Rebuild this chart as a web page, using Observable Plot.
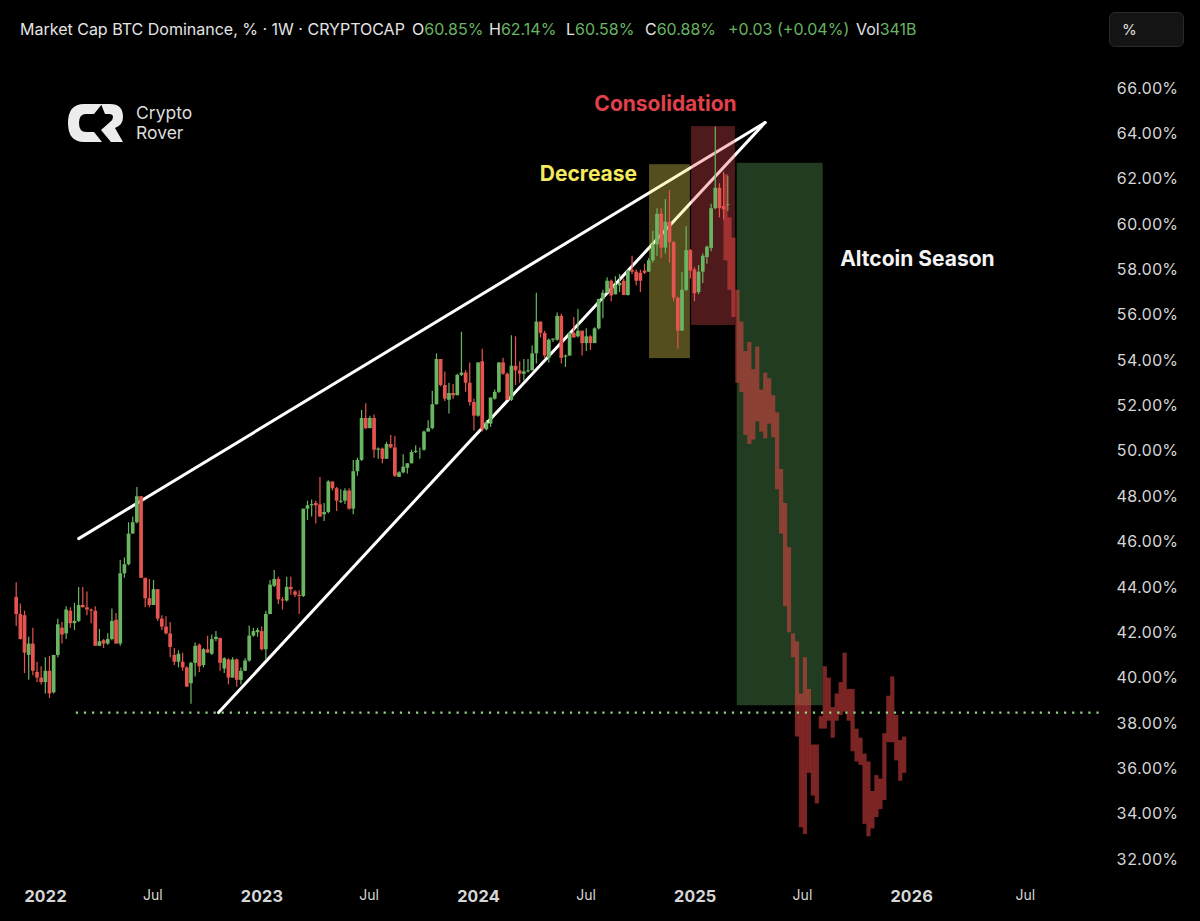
<!DOCTYPE html>
<html>
<head>
<meta charset="utf-8">
<script src="https://cdn.jsdelivr.net/npm/d3@7"></script>
<script src="https://cdn.jsdelivr.net/npm/@observablehq/plot@0.6"></script>
<style>
  html, body { margin: 0; padding: 0; background: #000; }
  body { width: 1200px; height: 921px; overflow: hidden; position: relative; font-family: Inter, Roboto, sans-serif; }
  #head { height: 56px; position: relative; color: #e4e4e4; font-size: 16px; white-space: nowrap; }
  #head .t { position: absolute; top: 19px; line-height: 20px; }
  #head b { font-weight: 400; color: #67b463; }
  #btn { position: absolute; left: 1109px; top: 12px; width: 73px; height: 33px; background: #141414; border: 1px solid #2a2a2a; border-radius: 6px; color: #e0e0e0; font-size: 15px; line-height: 34px; text-indent: 12px; }
  #logo { position: absolute; left: 68px; top: 104px; }
  #logoText { position: absolute; left: 136px; top: 103px; color: #dcdcdc; font-size: 17.5px; line-height: 20px; }
  svg { display: block; }
</style>
</head>
<body>
<div id="head"></div>
<div id="plot"></div>
<svg id="logo" width="56" height="38" viewBox="0 0 56 38">
  <path fill="#ececec" d="M34 0H16Q0 0 0 19Q0 38 16 38H34L26 28H18Q11 28 11 19Q11 10 18 10H26Z"/>
  <path fill="#ececec" d="M33 0H42Q55 0 55 13Q55 21 47 24L55 38H43L33 26L42 18Q45 16 45 13Q45 10 41 10H37Z"/>
</svg>
<div id="logoText">Crypto<br>Rover</div>
<script>
const opens = [43.56,42.8,42.75,41,41.5,40.25,40,39.8,40.3,39.35,41,42.2,41.95,42.95,42.4,42.5,43.2,43.1,43,42.95,41.4,41.65,41.5,41.7,42.55,41.5,44.6,45,46.35,46.85,48,44.4,43.5,43.2,43.9,42.6,42.25,41.95,41,40.7,40.7,40.45,39.75,40.65,41.45,40.55,41.25,41.05,41.7,41.75,40.4,40.8,40,40.8,39.9,40.3,40.75,41.85,42,42.05,41.25,42.8,44.05,44.35,43.45,43.4,44,43.8,43.65,43.6,47.45,47.6,47.7,47.64,47.2,47.3,48.65,48.35,47.75,47.8,48.25,47.45,49.1,49.6,51.45,51,51.45,50.05,50.1,49.65,50.3,50.15,48.85,49.05,49.25,49.45,49.95,50,50.05,50.85,51,52.05,54.05,52.9,52.25,52.55,52.45,53.35,53.45,53,52.15,51.55,53.95,50.95,51.2,52.3,52.6,53.9,53.4,52.25,53.75,53.55,53.4,53.5,53.55,54.3,55.7,55.2,54.1,54.9,54.9,55.95,54.15,54.2,55.2,55.05,55.3,54.75,55.05,54.75,55.4,56.7,56.97,57.5,56.9,57.3,57.5,56.87,57.98,57.9,57.85,57.95,57.9,58.4,59.1,60.46,58.96,60.1,59.2,56.75,55.3,57.1,58.85,58,57,57.9,58.55,58.95,60.7,61.6,60.8,60.85];
const highs = [44.2,43.27,42.95,41.8,42.2,40.7,40.5,40.9,40.95,41,42.6,42.45,43.15,43.1,43.3,44,44,43.8,43.05,43.15,42.15,41.7,41.95,43.05,42.85,45.2,45.3,46.85,47.1,48.4,48,44.4,44.35,44.3,43.9,42.75,42.7,42.45,41.3,41.2,41.1,40.5,40.7,41.55,41.5,41.3,41.85,41.9,42.05,41.75,40.9,40.85,40.9,40.85,40.45,40.85,42.3,42.2,42.2,42.25,42.95,44.3,44.75,44.45,43.55,44.45,44.45,43.85,43.85,47.45,47.8,47.85,47.8,48.85,47.7,48.7,48.65,48.4,48.3,48.35,48.35,49.6,49.7,51.8,52.1,51.55,51.6,50.15,50.15,50.4,50.7,50.65,49.1,49.85,49.45,50.05,50.25,50.15,50.9,51.35,52.65,54.3,54.05,53.5,53,52.95,53.4,55.25,53.55,53.9,52.3,53.9,54.5,51.35,52.35,52.7,53.9,54.1,53.45,55.1,55.05,53.95,54.05,54.05,54.65,56.97,55.7,55.3,54.95,54.95,56.1,56.05,54.25,55.25,55.9,56.25,55.3,55.4,55.1,55.45,56.7,57.1,57.65,57.55,57.7,57.8,57.6,57.98,58.6,58,58,58.25,58.5,59.7,60.7,60.7,61.1,61.5,59.25,56.8,57.9,59.9,58.9,58.1,58.2,58.7,59.05,60.9,64.3,61.8,62.3,62.14];
const lows = [42.27,41.68,40.2,39.9,40.1,39.8,39.7,39.3,39.1,39.3,40.9,41.5,41.7,42.2,42.1,42.45,43.1,42.75,42.4,41.4,41.4,41.3,41.45,41.65,41.5,41.4,44.4,44.95,46.35,46.8,44.4,43.1,43.1,43.2,42.5,42.1,41.9,40.9,40.55,40.45,40.3,39.6,38.85,40.05,40.25,40.45,41.1,41,41.6,40.3,40.2,39.7,40,39.6,39.7,40.3,40.7,41.8,41.8,41.2,40.8,42.8,44,43.25,43,43.35,43.65,43.55,42.8,43.55,46.95,47.1,46.8,47.09,46.9,47.25,48.25,47.35,47.7,47.65,47.4,47.2,48.9,49.55,50.95,51,49.7,49.65,49.45,49.65,50.1,48.85,48.85,49,49,49.45,49.9,49.65,50,50.85,50.95,52.05,52.85,52.2,51.65,52.3,52.45,53.3,52.6,52,50.9,51.5,50.85,50.9,51.05,52.25,52.55,53.35,52.25,52.2,52.9,53,53.1,53.45,53.55,53.85,55,54.1,53.9,54.8,54.85,53.85,53.7,54.2,55,55,54.2,54.4,54.45,54.75,55.35,55.85,56.95,56.6,56.9,57,56.87,56.85,57.8,57.3,57,57.8,57.9,58.3,58.6,58.5,58.7,58.3,56.6,54.5,55.3,57.05,57.6,56.6,56.9,57.4,58.25,58.8,60.65,60.3,60.2,60.58];
const closes = [42.8,41.7,41.1,41.5,40.3,40,39.8,40.3,39.3,41,42.35,41.9,43,42.4,42.5,43.2,43.1,43,42.95,41.4,41.6,41.5,41.7,42.5,41.5,44.6,45,46.35,46.85,48,44.4,43.5,43.2,43.9,42.6,42.25,41.95,41.35,40.7,41.05,40.45,39.6,40.65,41.4,40.5,41.25,41.1,41.7,41.8,40.65,40.85,40,40.8,39.9,40.3,40.75,41.85,42.05,42.1,41.25,42.8,44.1,44.35,43.45,43.4,44,43.9,43.65,43.6,47.45,47.6,47.65,47.6,47.1,47.3,48.65,48.35,47.8,47.8,48.25,47.45,49.1,49.6,51.45,51,51.45,50.05,50.1,49.65,50.3,50.15,48.9,49.05,49.3,49.45,49.95,50,50,50.85,51,52.05,54.05,52.9,52.3,52.55,52.45,53.35,53.45,53,52.15,51.55,53.9,50.95,51.25,52.35,52.6,53.9,53.4,52.25,53.75,53.55,53.4,53.5,53.55,54.3,55.7,55.2,54.2,54.9,54.95,55.95,54.1,54.2,55.2,55,55.3,54.75,55.05,54.75,55.4,56.7,56.97,57.5,56.85,57.3,57.4,56.87,57.96,57.9,57.5,57.5,57.85,58.4,59.1,60.45,58.96,60.1,59.2,56.75,55.3,57.1,58.85,57.95,56.95,57.9,58.6,59,60.7,61.6,60.7,60.65,60.88];
const projHigh = [62.2,60.3,59.4,57.1,55.7,54.4,54.8,53.6,54.6,52.7,53.45,53.2,52.45,51.7,49.2,47.7,45.75,41.95,41.6,39.3,40.9,39.5,37.05,37.05,38.3,40.5,40,38.7,39.3,39.8,41.1,39.5,39.5,37.75,37.35,36.65,36.3,35,35.7,35.55,37.55,39.2,40.05,38.35,37.25,37.4];
const projLow = [58.4,57.1,55.9,53,52.6,50.7,50.3,50.5,51.3,50.85,50.55,51.2,50.6,48.3,46.35,43.15,42,40.9,37.4,33.4,33.1,35.8,34.8,34.45,37.75,37.75,38.1,37.35,38.1,38.35,38.5,38.1,36.75,36.3,36.15,33.55,33,33.35,33.85,34.2,34.6,37.15,37.15,36.35,35.45,35.8];

const yTicks = [32,34,36,38,40,42,44,46,48,50,52,54,56,58,60,62,64,66];
const yearTicks = [new Date(Date.UTC(2022,0,1)), new Date(Date.UTC(2023,0,1)), new Date(Date.UTC(2024,0,1)), new Date(Date.UTC(2025,0,1)), new Date(Date.UTC(2026,0,1))];
const julyTicks = [new Date(Date.UTC(2022,6,1)), new Date(Date.UTC(2023,6,1)), new Date(Date.UTC(2024,6,1)), new Date(Date.UTC(2025,6,1)), new Date(Date.UTC(2026,6,12))];

const DAY = 864e5;
const candleStart = Date.UTC(2021,10,12,14);
const candleStep = 7.02;
const projStart = Date.UTC(2025,1,21,5);
const projStep = 6.7;
const dt = (y,m,d) => new Date(Date.UTC(y,m-1,d));

const n = Math.min(opens.length, highs.length, lows.length, closes.length);
const candles = d3.range(n).map(i => ({
  date: new Date(candleStart + i*candleStep*DAY),
  open: opens[i], high: highs[i], low: lows[i], close: closes[i]
}));
const proj = projHigh.map((h,k) => ({date: new Date(projStart + k*projStep*DAY), high: h, low: projLow[k]}));

const upperLine = [{d: dt(2022,2,26), v: 46.15}, {d: dt(2025,4,29), v: 64.5}];
const lowerLine = [{d: dt(2022,10,20), v: 38.48}, {d: dt(2025,4,29), v: 64.5}];

const zones = [
  {x1: dt(2024,10,16), x2: dt(2024,12,24), y1: 54.09, y2: 62.64, fill: "#ffea5b", op: 0.33},
  {x1: dt(2024,12,26), x2: dt(2025,3,10),  y1: 55.55, y2: 64.32, fill: "#f04f55", op: 0.33},
  {x1: dt(2025,3,13),  x2: dt(2025,8,5),   y1: 38.78, y2: 62.7,  fill: "#61af5e", op: 0.34}
];
const notes = [
  {d: dt(2024,11,12), v: 65.29, text: "Consolidation", fill: "#e0404a"},
  {d: dt(2024,7,5),   v: 62.2,  text: "Decrease", fill: "#f4ea5e"},
  {d: dt(2026,1,11),  v: 58.45, text: "Altcoin Season", fill: "#f4f4f4"}
];

const GREEN = "#6ab562", RED = "#e5544f";
const col = d => d.close >= d.open ? GREEN : RED;

const chart = Plot.plot({
  width: 1200, height: 865,
  marginTop: 0, marginBottom: 36, marginLeft: 0, marginRight: 92,
  style: {background: "#000", color: "#d6d6d6", fontFamily: "Inter, Roboto, sans-serif"},
  x: {type: "utc", domain: [dt(2022,1,1), dt(2026,1,1)], range: [45, 911]},
  y: {domain: [32, 66], range: [803, 32]},
  marks: [
    Plot.axisY({anchor: "right", ticks: yTicks, tickSize: 0, tickPadding: 8, fontSize: 16, label: null, tickFormat: d => d.toFixed(2) + "%"}),
    Plot.axisX({ticks: yearTicks, tickSize: 0, tickPadding: 5, fontSize: 16.5, fontWeight: 700, label: null, tickFormat: d => d3.utcFormat("%Y")(d)}),
    Plot.axisX({ticks: julyTicks, tickSize: 0, tickPadding: 5, fontSize: 14, label: null, tickFormat: () => "Jul"}),
    Plot.line(upperLine, {x: "d", y: "v", stroke: "#fff", strokeWidth: 3, strokeLinecap: "round"}),
    Plot.line(lowerLine, {x: "d", y: "v", stroke: "#fff", strokeWidth: 3, strokeLinecap: "round"}),
    Plot.rect(zones, {x1: "x1", x2: "x2", y1: "y1", y2: "y2", fill: "fill", fillOpacity: "op"}),
    Plot.ruleX(candles, {x: "date", y1: "low", y2: "high", stroke: col, strokeWidth: 1.2}),
    Plot.ruleX(candles, {x: "date", y1: "open", y2: "close", stroke: col, strokeWidth: 3.7}),
    Plot.ruleX(proj, {x: "date", y1: "low", y2: "high", stroke: "#eb4646", strokeWidth: 4.2, opacity: 0.52}),
    Plot.ruleY([38.48], {x1: dt(2022,2,22), x2: dt(2026,11,21), stroke: "#8ed880", strokeWidth: 2.2, strokeDasharray: "2.2,5.9"}),
    Plot.text(notes, {x: "d", y: "v", text: "text", fill: "fill", fontSize: 21, fontWeight: 700})
  ]
});
document.getElementById("plot").appendChild(chart);

const head = document.getElementById("head");
const pieces = [
  [20, "Market Cap BTC Dominance, % · 1W · CRYPTOCAP"],
  [412, "O<b>60.85%</b>"], [489, "H<b>62.14%</b>"], [566, "L<b>60.58%</b>"], [645, "C<b>60.88%</b>"],
  [728, "<b>+0.03 (+0.04%)</b>"], [856, "Vol<b>341B</b>"]
];
for (const [x, html] of pieces) {
  const s = document.createElement("div");
  s.className = "t"; s.style.left = x + "px"; s.innerHTML = html;
  head.appendChild(s);
}
const btn = document.createElement("div"); btn.id = "btn"; btn.textContent = "%"; head.appendChild(btn);
</script>
</body>
</html>
